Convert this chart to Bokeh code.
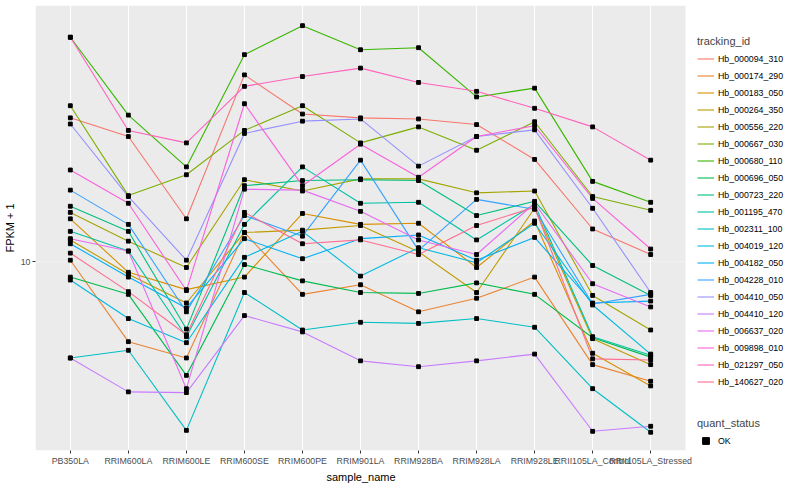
from bokeh.plotting import figure
from bokeh.models import Range1d, FixedTicker, Legend, LegendItem, BoxAnnotation, Title
from bokeh.embed import file_html
from bokeh.resources import INLINE

samples = ["PB350LA", "RRIM600LA", "RRIM600LE", "RRIM600SE", "RRIM600PE", "RRIM901LA",
           "RRIM928BA", "RRIM928LA", "RRIM928LE", "RRII105LA_Control", "RRII105LA_Stressed"]

tracking_ids = ["Hb_000094_310", "Hb_000174_290", "Hb_000183_050", "Hb_000264_350",
                "Hb_000556_220", "Hb_000667_030", "Hb_000680_110", "Hb_000696_050",
                "Hb_000723_220", "Hb_001195_470", "Hb_002311_100", "Hb_004019_120",
                "Hb_004182_050", "Hb_004228_010", "Hb_004410_050", "Hb_004410_120",
                "Hb_006637_020", "Hb_009898_010", "Hb_021297_050", "Hb_140627_020"]

colors = ["#F8766D", "#EA8331", "#D89000", "#C09B00", "#A3A500", "#7CAE00", "#39B600",
          "#00BB4E", "#00BF7D", "#00C1A3", "#00BFC4", "#00BAE0", "#00B0F6", "#35A2FF",
          "#9590FF", "#C77CFF", "#E76BF3", "#FA62DB", "#FF62BC", "#FF6C91"]

# FPKM + 1 per sample (same order as samples)
hb_000094_310 = [26.7, 23.5, 13.4, 35.8, 27.4, 26.7, 26.5, 25.5, 20.1, 12.5, 10.5]
hb_000174_290 = [10.1, 5.79, 5.18, 12.2, 8.00, 8.54, 7.10, 7.79, 9.00, 4.95, 4.42]
hb_000183_050 = [13.4, 9.30, 8.26, 9.00, 13.9, 12.9, 13.0, 9.61, 13.2, 5.35, 4.28]
hb_000264_350 = [11.6, 9.18, 7.54, 12.2, 12.4, 12.8, 10.7, 8.10, 14.4, 5.91, 4.95]
hb_000556_220 = [14.0, 11.5, 9.61, 17.5, 16.2, 17.6, 17.6, 16.0, 16.2, 7.94, 6.27]
hb_000667_030 = [29.0, 15.7, 18.1, 24.5, 29.0, 22.5, 25.1, 21.4, 26.0, 15.6, 14.2]
hb_000680_110 = [46.3, 27.2, 19.1, 41.1, 50.1, 42.5, 43.1, 30.8, 32.7, 17.3, 15.0]
hb_000696_050 = [9.00, 8.00, 4.60, 9.80, 8.77, 8.10, 8.05, 8.65, 8.00, 5.95, 5.21]
hb_000723_220 = [14.6, 12.3, 6.31, 16.8, 17.4, 17.5, 17.4, 13.7, 15.1, 9.74, 7.94]
hb_001195_470 = [12.3, 10.75, 5.99, 12.9, 19.1, 14.9, 15.0, 11.6, 14.8, 5.99, 5.28]
hb_002311_100 = [5.18, 5.46, 3.16, 8.10, 6.27, 6.61, 6.56, 6.78, 6.39, 4.20, 3.12]
hb_004019_120 = [8.82, 6.78, 5.75, 10.3, 12.3, 9.06, 11.0, 9.93, 13.0, 7.44, 5.32]
hb_004182_050 = [11.3, 9.00, 7.29, 11.7, 10.2, 11.7, 12.0, 10.1, 11.8, 7.54, 7.64]
hb_004228_010 = [16.3, 12.9, 7.10, 13.7, 11.9, 20.0, 10.8, 15.3, 14.3, 7.49, 8.00]
hb_004410_050 = [25.6, 15.6, 10.1, 24.0, 26.1, 26.5, 19.2, 23.5, 24.6, 14.4, 8.10]
hb_004410_120 = [5.18, 4.11, 4.09, 6.92, 6.19, 5.08, 4.88, 5.08, 5.32, 3.14, 3.25]
hb_006637_020 = [11.7, 10.75, 4.20, 16.4, 16.3, 14.1, 11.6, 10.5, 14.9, 8.60, 7.34]
hb_009898_010 = [18.7, 14.9, 8.21, 29.4, 16.8, 22.3, 17.8, 23.5, 25.3, 15.4, 10.9]
hb_021297_050 = [46.3, 24.5, 22.5, 33.1, 35.4, 37.5, 34.0, 32.0, 28.5, 25.1, 20.0]
hb_140627_020 = [10.6, 8.15, 6.07, 14.0, 11.3, 11.6, 10.5, 12.8, 14.5, 5.15, 5.11]

series = [hb_000094_310, hb_000174_290, hb_000183_050, hb_000264_350, hb_000556_220,
          hb_000667_030, hb_000680_110, hb_000696_050, hb_000723_220, hb_001195_470,
          hb_002311_100, hb_004019_120, hb_004182_050, hb_004228_010, hb_004410_050,
          hb_004410_120, hb_006637_020, hb_009898_010, hb_021297_050, hb_140627_020]

quant_status = "OK"

FONT = "Liberation Sans"
W, H = 784, 484
LEFT = 35           # frame left (px)
TOP = 5
BOTTOM = 34
FRAME_BOTTOM = H - BOTTOM
PANEL_RIGHT = 685   # right edge of the grey panel (px)
X0, X1 = -0.6, 10.6
PX_PER_UNIT = (PANEL_RIGHT - LEFT) / (X1 - X0)
X_END = X1 + (W - PANEL_RIGHT) / PX_PER_UNIT

p = figure(width=W, height=H, output_backend="svg", toolbar_location=None,
           y_axis_type="log",
           x_range=Range1d(X0, X_END), y_range=Range1d(2.754, 57.5),
           min_border_left=LEFT, min_border_right=0, min_border_top=TOP,
           min_border_bottom=BOTTOM)
p.background_fill_color = "white"
p.border_fill_color = "white"
p.outline_line_color = None

# grey panel area (left part of the frame)
p.add_layout(BoxAnnotation(right=X1, fill_color="#EBEBEB", fill_alpha=1, line_color=None, level="image"))

xs = list(range(len(samples)))

# grey key background for legends (no data in plot)
key_bg = p.line(x=[], y=[], line_color="#F2F2F2", line_width=16)

line_renderers = []
for vals, col in zip(series, colors):
    r = p.line(xs, vals, line_color=col, line_width=1.1)
    line_renderers.append(r)

pt_r = None
for vals in series:
    pt_r = p.scatter(xs, vals, marker="square", size=3.8, color="black")

# axes
xt = FixedTicker(ticks=xs)
p.xaxis.ticker = xt
p.xgrid.ticker = xt
p.xaxis.major_label_overrides = {i: s for i, s in enumerate(samples)}
yt = FixedTicker(ticks=[10])
p.yaxis.ticker = yt
p.yaxis.major_label_overrides = {10: "10"}
p.ygrid.visible = False
# horizontal major grid line at 10, limited to the panel
p.add_layout(BoxAnnotation(right=X1, bottom=10, top=10, fill_alpha=0,
                           line_color="white", line_width=1.1, level="underlay"))

p.yaxis.axis_label = "FPKM + 1"
for ax in (p.xaxis[0], p.yaxis[0]):
    ax.axis_line_color = None
    ax.major_tick_line_color = "#333333"
    ax.major_tick_line_width = 1
    ax.major_tick_out = 3
    ax.major_tick_in = 0
    ax.minor_tick_line_color = None
    ax.major_label_text_font = FONT
    ax.major_label_text_font_size = "8.8px"
    ax.major_label_text_color = "#4D4D4D"
    ax.major_label_standoff = 2
    ax.axis_label_text_font = FONT
    ax.axis_label_text_font_size = "11px"
    ax.axis_label_text_font_style = "normal"
    ax.axis_label_text_color = "black"
    ax.axis_label_standoff = 2

p.xgrid.grid_line_color = "white"
p.xgrid.grid_line_width = 1.1
p.xgrid.minor_grid_line_color = None

# x-axis title centred under the grey panel
xt_title = Title(text="sample_name", align="left", offset=(PANEL_RIGHT - LEFT) / 2 - 34,
                 text_font=FONT, text_font_size="11px", text_font_style="normal",
                 text_color="black", standoff=0)
p.add_layout(xt_title, "below")


def style_legend(leg):
    leg.border_line_color = None
    leg.background_fill_alpha = 0
    leg.padding = 0
    leg.margin = 0
    leg.spacing = 0
    leg.glyph_width = 17
    leg.glyph_height = 17
    leg.label_height = 17
    leg.label_standoff = 4
    leg.label_text_font = FONT
    leg.label_text_font_size = "8.8px"
    leg.label_text_color = "black"
    leg.title_text_font = FONT
    leg.title_text_font_size = "11px"
    leg.title_text_font_style = "normal"
    leg.title_standoff = 3


LEG_X = 697 - LEFT
items = [LegendItem(label=tid, renderers=[key_bg, r]) for tid, r in zip(tracking_ids, line_renderers)]
leg1 = Legend(items=items, title="tracking_id", location=(LEG_X, FRAME_BOTTOM - 390))
style_legend(leg1)
p.add_layout(leg1)

leg2 = Legend(items=[LegendItem(label=quant_status, renderers=[key_bg, pt_r])],
              title="quant_status", location=(LEG_X, 1))
style_legend(leg2)
p.add_layout(leg2)

open("out.html", "w").write(file_html(p, INLINE))
